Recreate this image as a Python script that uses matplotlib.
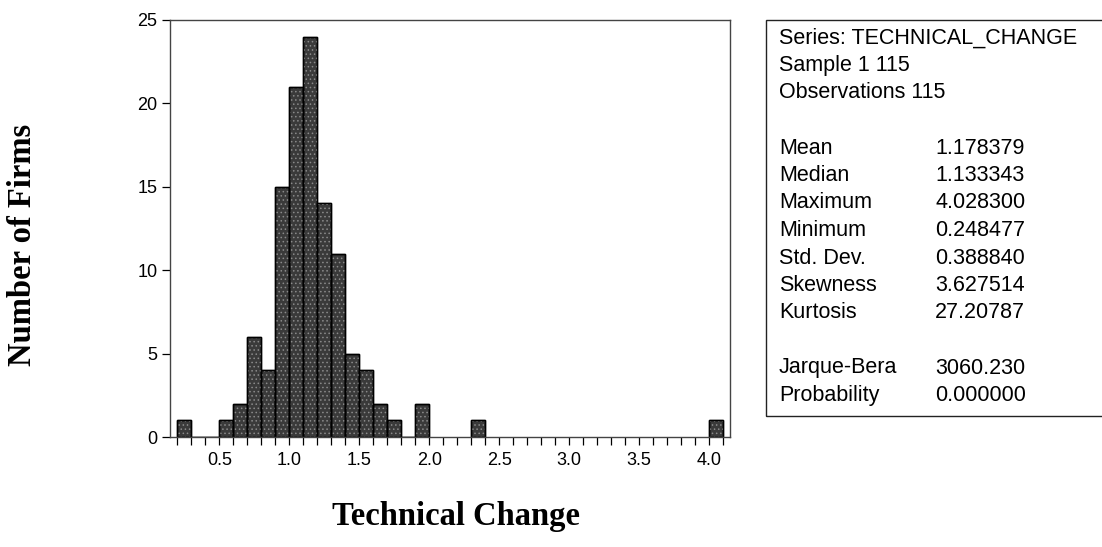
#Histogram of technical change across firms, with the summary statistics box on the right.
import numpy as np
import matplotlib.pyplot as plt
from matplotlib.ticker import MultipleLocator
from matplotlib.patches import Rectangle

#Histogram data: left edge of each 0.1 wide bin and the number of firms in it.
bin_left = [0.2, 0.3, 0.4, 0.5, 0.6, 0.7, 0.8, 0.9, 1.0, 1.1, 1.2, 1.3, 1.4, 1.5,
            1.6, 1.7, 1.8, 1.9, 2.3, 4.0]
counts = [1, 0, 0, 1, 2, 6, 4, 15, 21, 24, 14, 11, 5, 4, 2, 1, 0, 2, 1, 1]
bin_width = 0.1

x_ticks = [0.5, 1.0, 1.5, 2.0, 2.5, 3.0, 3.5, 4.0]
y_ticks = [0, 5, 10, 15, 20, 25]

#Summary statistics shown in the box.
header_lines = ["Series: TECHNICAL_CHANGE", "Sample 1 115", "Observations 115"]
stat_names = ["Mean", "Median", "Maximum", "Minimum", "Std. Dev.", "Skewness", "Kurtosis"]
stat_values = ["1.178379", "1.133343", "4.028300", "0.248477", "0.388840", "3.627514", "27.20787"]
test_names = ["Jarque-Bera", "Probability"]
test_values = ["3060.230", "0.000000"]

W, H = 1102, 547
fig = plt.figure(figsize=(W / 100, H / 100), dpi=100)
plt.rcParams['font.family'] = ['Liberation Sans', 'DejaVu Sans']
plt.rcParams['hatch.linewidth'] = 0.6

#Axes placed in pixel units of the reference.
ax = fig.add_axes([170 / W, 1 - 437 / H, (730 - 170) / W, (437 - 20) / H])
ax.bar(bin_left, counts, width=bin_width, align='edge',
       facecolor='#3a3a3a', edgecolor='black', linewidth=1.0)
#Light speckle on top, like the printed screen of the original.
ax.bar(bin_left, counts, width=bin_width, align='edge',
       fill=False, hatch='....', edgecolor='#8a8a8a', linewidth=0)
ax.bar(bin_left, counts, width=bin_width, align='edge',
       fill=False, edgecolor='black', linewidth=1.0)

ax.set_xlim(0.148, 4.148)
ax.set_ylim(0, 25)
ax.set_xticks(x_ticks)
ax.set_xticklabels([f"{v:.1f}" for v in x_ticks])
ax.xaxis.set_minor_locator(MultipleLocator(0.1))
ax.set_yticks(y_ticks)
ax.tick_params(axis='both', direction='out', labelsize=13, color='black', width=0.9)
ax.tick_params(axis='x', which='major', length=5.5, pad=5)
ax.tick_params(axis='x', which='minor', length=5.5, width=0.9)
ax.tick_params(axis='y', length=5.5, pad=3.5)
for s in ax.spines.values():
    s.set_linewidth(1.0)
    s.set_color('#444444')

#Axis titles in bold serif.
fig.text(23 / W, 1 - 245 / H, "Number of Firms", rotation=90, ha='center', va='center',
         fontsize=23.5, fontweight='bold', family='Liberation Serif')
fig.text(456 / W, 1 - 517 / H, "Technical Change", ha='center', va='center',
         fontsize=23.5, fontweight='bold', family='Liberation Serif')

#Statistics box, open on the right side like the reference.
box_top, box_bot, box_left = 20, 416, 766
fig.patches.append(Rectangle((box_left / W, 1 - box_bot / H), (W + 20 - box_left) / W,
                             (box_bot - box_top) / H, transform=fig.transFigure,
                             fill=False, edgecolor='#222222', linewidth=1.0))

pitch = 27.5
y = 38
label_x, value_x = 779 / W, 935 / W
fs = 15.5
for line in header_lines:
    fig.text(label_x, 1 - y / H, line, ha='left', va='center', fontsize=fs)
    y += pitch
y += pitch
for name, val in zip(stat_names, stat_values):
    fig.text(label_x, 1 - y / H, name, ha='left', va='center', fontsize=fs)
    fig.text(value_x, 1 - y / H, val, ha='left', va='center', fontsize=fs)
    y += pitch
y += pitch
for name, val in zip(test_names, test_values):
    fig.text(label_x, 1 - y / H, name, ha='left', va='center', fontsize=fs)
    fig.text(value_x, 1 - y / H, val, ha='left', va='center', fontsize=fs)
    y += pitch

fig.savefig('out.png', dpi=100)
